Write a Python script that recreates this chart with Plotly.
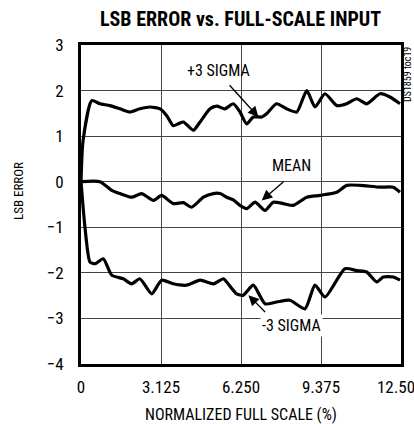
import plotly.graph_objects as go

# ---- data ----
plus3_x = [0, 0.08, 0.42, 0.74, 1.13, 1.52, 1.91, 2.3, 2.7, 3.09, 3.35, 3.6, 3.8, 4.0, 4.39, 4.65,
           5.04, 5.3, 5.62, 5.95, 6.21, 6.47, 6.73, 7.06, 7.25, 7.64, 8.03, 8.43, 8.82, 9.14,
           9.53, 9.99, 10.38, 10.77, 11.16, 11.68, 12.07, 12.46]
plus3_y = [0.0, 0.9, 1.78, 1.71, 1.67, 1.6, 1.53, 1.6, 1.64, 1.6, 1.45, 1.23, 1.27, 1.31, 1.13, 1.31,
           1.6, 1.66, 1.6, 1.71, 1.53, 1.27, 1.42, 1.42, 1.49, 1.71, 1.6, 1.53, 2.0, 1.64,
           1.93, 1.67, 1.71, 1.82, 1.71, 1.93, 1.86, 1.71]

mean_x = [0, 0.74, 1.2, 1.52, 1.98, 2.37, 2.83, 3.15, 3.6, 4.0, 4.32, 4.78, 5.17, 5.43, 5.69, 5.95,
          6.21, 6.47, 6.8, 7.19, 7.51, 7.9, 8.29, 8.82, 9.34, 9.99, 10.38, 10.9, 11.68, 12.2, 12.46]
mean_y = [0.0, 0.0, -0.19, -0.26, -0.34, -0.26, -0.41, -0.30, -0.48, -0.46, -0.56, -0.34, -0.26, -0.26,
          -0.34, -0.40, -0.52, -0.59, -0.45, -0.63, -0.45, -0.48, -0.52, -0.34, -0.30, -0.23, -0.08,
          -0.08, -0.12, -0.12, -0.23]

minus3_x = [0, 0.16, 0.35, 0.55, 0.87, 1.2, 1.65, 1.98, 2.3, 2.76, 3.15, 3.6, 4.13, 4.65, 5.17, 5.56,
            5.69, 6.08, 6.34, 6.73, 7.19, 7.64, 8.16, 8.75, 9.14, 9.53, 10.31, 10.77, 11.16, 11.55,
            11.81, 12.2, 12.46]
minus3_y = [0.0, -1.03, -1.76, -1.8, -1.69, -2.05, -2.13, -2.24, -2.13, -2.46, -2.16, -2.24, -2.27,
            -2.16, -2.24, -2.13, -2.2, -2.46, -2.49, -2.27, -2.68, -2.64, -2.6, -2.79, -2.27, -2.53,
            -1.91, -1.95, -1.98, -2.2, -2.09, -2.09, -2.16]

x_tick_vals = [0, 3.125, 6.25, 9.375, 12.5]
x_tick_text = ["0", "3.125", "6.250", "9.375", "12.50"]
y_tick_vals = [-4, -3, -2, -1, 0, 1, 2, 3]

FONT = "Liberation Sans Narrow, Arial Narrow, Roboto Condensed, Liberation Sans, sans-serif"

W, H = 414, 424
L, R, T, B = 81, 13, 45, 60
pw, ph = W - L - R, H - T - B


def px_x(p):
    return (p - L) / pw


def px_y(p):
    return (H - B - p) / ph


fig = go.Figure()
for xs, ys in [(plus3_x, plus3_y), (mean_x, mean_y), (minus3_x, minus3_y)]:
    fig.add_trace(go.Scatter(x=xs, y=ys, mode="lines",
                             line=dict(color="black", width=3.2, shape="spline", smoothing=0.6),
                             showlegend=False, hoverinfo="skip"))
# invisible helper trace so the secondary (last-label) x axis is drawn
fig.add_trace(go.Scatter(x=[x_tick_vals[-1]], y=[y_tick_vals[0]], xaxis="x2", mode="markers",
                         marker=dict(opacity=0), showlegend=False, hoverinfo="skip"))

anns = []
labels = [
    ("+3 SIGMA", 5.36, 2.44, 5.75, 2.15, 6.93, 1.42),
    ("MEAN", 8.24, 0.36, 7.97, 0.03, 7.06, -0.41),
    ("-3 SIGMA", 8.23, -3.15, 7.25, -2.89, 6.54, -2.49),
]
for txt, tx, ty, ax0, ay0, hx, hy in labels:
    a = dict(x=tx, y=ty, xref="x", yref="y", text=txt, showarrow=False,
             xanchor="center", yanchor="middle",
             font=dict(family=FONT, size=16, color="black"), borderpad=1)
    if txt.startswith("-"):
        a["bgcolor"] = "white"
    anns.append(a)
    anns.append(dict(x=hx, y=hy, ax=ax0, ay=ay0, xref="x", yref="y", axref="x", ayref="y",
                     text="", showarrow=True, arrowhead=2, arrowsize=1.6, arrowwidth=1.3,
                     arrowcolor="black", standoff=0, startstandoff=0))


def pann(x, y, text, size, angle=0):
    return dict(x=px_x(x), y=px_y(y), xref="paper", yref="paper", text=text,
                textangle=angle, showarrow=False, xanchor="center", yanchor="middle",
                font=dict(family=FONT, size=size, color="black"))


anns.append(pann(19, 191, "LSB ERROR", 13, -90))
anns.append(pann(241, 414, "NORMALIZED FULL SCALE (%)", 16))
anns.append(pann(407, 75, "DS1859 toc19", 10, -90))
anns.append(pann(240, 19, "<b>LSB ERROR vs. FULL-SCALE INPUT</b>", 20))

fig.update_layout(
    annotations=anns,
    width=W, height=H,
    margin=dict(l=L, r=R, t=T, b=B, autoexpand=False),
    paper_bgcolor="white", plot_bgcolor="white",
    font=dict(family=FONT, size=17, color="black"),
    xaxis=dict(range=[0, 12.5], tickvals=x_tick_vals[:-1], ticktext=x_tick_text[:-1],
               showgrid=True, gridcolor="#444", gridwidth=1, zeroline=False,
               showline=True, linecolor="black", linewidth=3, mirror=True, automargin=False,
               ticks="", ticklabelstandoff=6, fixedrange=True),
    xaxis2=dict(range=[0, 12.5], overlaying="x", anchor="y", side="bottom",
                tickvals=x_tick_vals[-1:], ticktext=x_tick_text[-1:],
                showgrid=False, zeroline=False, showline=False, automargin=False,
                ticks="", ticklabelstandoff=11, ticklabelshift=-5, ticklabeloverflow="allow",
                fixedrange=True),
    yaxis=dict(range=[-4, 3], tickvals=y_tick_vals,
               showgrid=True, gridcolor="#444", gridwidth=1, zeroline=False,
               showline=True, linecolor="black", linewidth=3, mirror=True, automargin=False,
               ticks="", ticklabelstandoff=11, fixedrange=True),
)

fig.write_html("out.html", config={"displayModeBar": False},
               post_script=("document.body.style.margin='0';document.body.style.overflow='hidden';"
                            "document.documentElement.style.overflow='hidden';"))
